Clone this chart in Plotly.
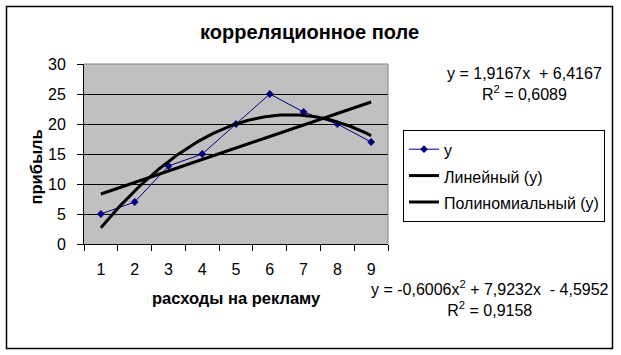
import numpy as np
import plotly.graph_objects as go

# ---- data ----
x_vals = [1, 2, 3, 4, 5, 6, 7, 8, 9]
y_vals = [5, 7, 13, 15, 20, 25, 22, 20, 17]
x_ticklabels = ["1", "2", "3", "4", "5", "6", "7", "8", "9"]
y_ticks = [0, 5, 10, 15, 20, 25, 30]
series_name = "у"
lin_name = "Линейный (у)"
poly_name = "Полиномиальный (у)"
title_text = "корреляционное поле"
x_title = "расходы на рекламу"
y_title = "прибыль"
eq_lin = "y = 1,9167x  + 6,4167<br>R<sup>2</sup> = 0,6089"
eq_poly = "y = -0,6006x<sup>2</sup> + 7,9232x  - 4,5952<br>R<sup>2</sup> = 0,9158"

# trendlines fitted from the data
lin_coef = np.polyfit(x_vals, y_vals, 1)
poly_coef = np.polyfit(x_vals, y_vals, 2)
xs = np.linspace(min(x_vals), max(x_vals), 200)
lin_y = np.polyval(lin_coef, xs)
poly_y = np.polyval(poly_coef, xs)

# ---- layout geometry (pixels) ----
W, H = 621, 355
L, R, T, B = 84, 388, 64, 244
PW, PH = R - L, B - T


def px(xp):
    return (xp - L) / PW


def py(yp):
    return (B - yp) / PH


FONT = "Arial, Liberation Sans, sans-serif"


def leg(name):
    return '<span style="font-size:16px">' + name + '</span>'


fig = go.Figure()
fig.add_trace(go.Scatter(
    x=x_vals, y=y_vals, mode="lines+markers", name=leg(series_name),
    line=dict(color="#000080", width=1),
    marker=dict(symbol="diamond", size=6, color="#000080"),
))
fig.add_trace(go.Scatter(
    x=xs, y=lin_y, mode="lines", name=leg(lin_name),
    line=dict(color="black", width=3),
))
fig.add_trace(go.Scatter(
    x=xs, y=poly_y, mode="lines", name=leg(poly_name),
    line=dict(color="black", width=3),
))

fig.update_layout(
    width=W, height=H,
    margin=dict(l=L, r=W - R, t=T, b=H - B, pad=0),
    paper_bgcolor="white",
    plot_bgcolor="#C0C0C0",
    font=dict(family=FONT, color="black", size=15),
    showlegend=True,
    legend=dict(
        x=px(403), y=py(130), xanchor="left", yanchor="top",
        bgcolor="white", bordercolor="black", borderwidth=1,
        font=dict(family=FONT, size=18, color="black"),
        tracegroupgap=0,
    ),
)

fig.update_xaxes(
    range=[0.5, 9.5], tickvals=x_vals, ticktext=x_ticklabels,
    ticks="", showgrid=False, zeroline=False,
    showline=True, linecolor="black", linewidth=1,
    tickfont=dict(size=16),
    ticklabelstandoff=11,
    minor=dict(tickvals=[v + 0.5 for v in [0] + x_vals], ticks="outside",
               ticklen=6, tickcolor="black", tickwidth=1, showgrid=False),
)
fig.update_yaxes(
    range=[0, 30], tickvals=y_ticks,
    ticks="outside", ticklen=6, tickcolor="black", tickwidth=1,
    showgrid=True, gridcolor="black", gridwidth=1, zeroline=False,
    showline=True, linecolor="black", linewidth=1,
    tickfont=dict(size=16),
    ticklabelstandoff=8,
)

shapes = [
    # plot area border top / right (gray)
    dict(type="line", xref="paper", yref="paper", x0=0, x1=1, y0=1, y1=1,
         line=dict(color="#808080", width=1), layer="above"),
    dict(type="line", xref="paper", yref="paper", x0=1, x1=1, y0=0, y1=1,
         line=dict(color="#808080", width=1), layer="above"),
    # outer chart border
    dict(type="rect", xref="paper", yref="paper",
         x0=px(6.5), x1=px(612.5), y0=py(6.5), y1=py(348.5),
         line=dict(color="black", width=1.5), fillcolor="rgba(0,0,0,0)",
         layer="below"),
]
fig.update_layout(shapes=shapes)

annotations = [
    dict(text="<b>" + title_text + "</b>", x=px(309), y=py(32),
         font=dict(size=20)),
    dict(text="<b>" + x_title + "</b>", x=px(236), y=py(298),
         font=dict(size=16.5)),
    dict(text="<b>" + y_title + "</b>", x=px(35), y=py(167.5),
         textangle=-90, font=dict(size=16.5)),
    dict(text=eq_lin, x=px(524), y=py(84), font=dict(size=16), align="center"),
    dict(text=eq_poly, x=px(490), y=py(298), font=dict(size=16), align="center"),
]
for a in annotations:
    a.update(xref="paper", yref="paper", xanchor="center", yanchor="middle",
             showarrow=False)
fig.update_layout(annotations=annotations)

fig.write_html("out.html")
